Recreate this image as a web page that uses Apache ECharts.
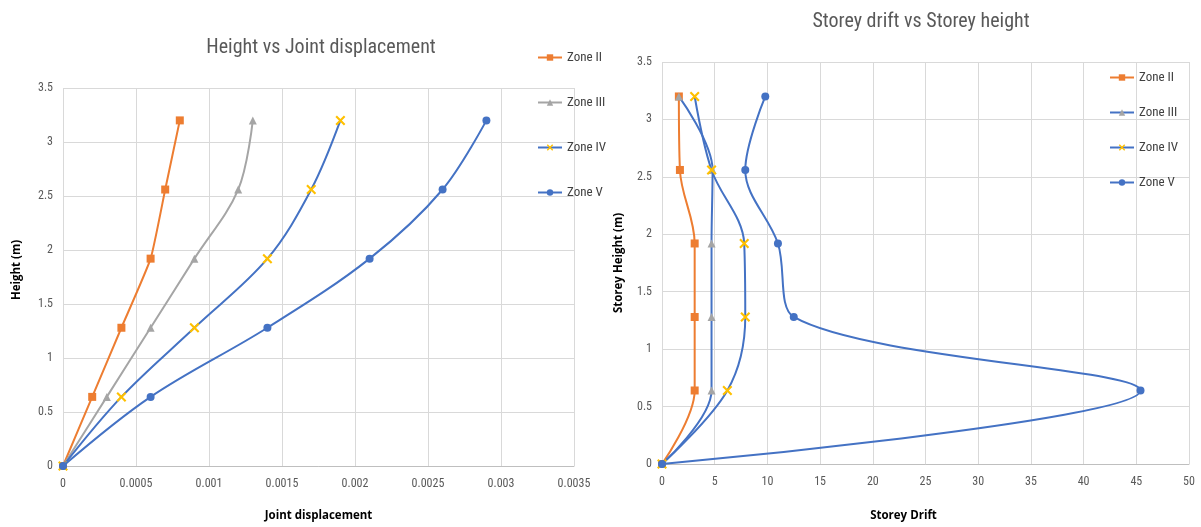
<!DOCTYPE html>
<html><head><meta charset="utf-8">
<script src="https://cdn.jsdelivr.net/npm/echarts@6/dist/echarts.min.js"></script>
<style>
html,body{margin:0;padding:0;background:#fff;}
#wrap{position:relative;width:1201px;height:527px;}
#c1{position:absolute;left:0;top:0;width:640px;height:527px;z-index:2;}
#c2{position:absolute;left:600px;top:0;width:601px;height:527px;z-index:1;}
</style></head>
<body><div id="wrap"><div id="c1"></div><div id="c2"></div></div>
<script>
// ---- data ----
const heights = [0, 0.64, 1.28, 1.92, 2.56, 3.2];
const zoneNames = ['Zone II', 'Zone III', 'Zone IV', 'Zone V'];
const dispII  = [0, 0.0002, 0.0004, 0.0006, 0.0007, 0.0008];
const dispIII = [0, 0.0003, 0.0006, 0.0009, 0.0012, 0.0013];
const dispIV  = [0, 0.0004, 0.0009, 0.0014, 0.0017, 0.0019];
const dispV   = [0, 0.0006, 0.0014, 0.0021, 0.0026, 0.0029];
const driftII  = [0, 3.1, 3.1, 3.1, 1.7, 1.6];
const driftIII = [0, 4.7, 4.7, 4.7, 4.8, 1.6];
const driftIV  = [0, 6.2, 7.9, 7.8, 4.7, 3.1];
const driftV   = [0, 45.4, 12.5, 11.0, 7.9, 9.8];

const FONT = '"Liberation Sans Narrow", "Roboto Condensed", Roboto, sans-serif';
const NAMEFONT = '"Open Sans", "DejaVu Sans", sans-serif';
const ORANGE = '#ED7D31', GRAY = '#A5A5A5', BLUE = '#4472C4', YELLOW = '#FFC000';
const XSYM = 'path://M1.5,0 L5,3.5 L8.5,0 L10,1.5 L6.5,5 L10,8.5 L8.5,10 L5,6.5 L1.5,10 L0,8.5 L3.5,5 L0,1.5 Z';

function pairs(xs){ return xs.map((x,i)=>[x, heights[i]]); }

function mkSeries(dataSets, lineColors, smooths){
  const syms = ['rect','triangle',XSYM,'circle'];
  const symColors = [ORANGE, GRAY, YELLOW, BLUE];
  const sizes = [8, 8, 10, 8];
  return dataSets.map((d,i)=>({
    name: zoneNames[i], type:'line', smooth: smooths[i],
    data: pairs(d), symbol: syms[i], symbolSize: sizes[i],
    lineStyle:{color: lineColors[i], width:2},
    itemStyle:{color: symColors[i]},
    z: 2+i
  }));
}

function axisCommon(){
  return {
    splitLine:{show:true, lineStyle:{color:'#D9D9D9', width:1}},
    axisTick:{show:false}
  };
}
const nameStyle = {color:'#000', fontWeight:'bold', fontSize:11.5, fontFamily:NAMEFONT};
const legendText = {color:'#404040', fontSize:13, fontFamily:FONT};

// Left chart
const c1 = echarts.init(document.getElementById('c1'));
c1.setOption({
  animation:false,
  title:{text:'Height vs Joint displacement', left:316, top:33, textAlign:'center',
    textStyle:{color:'#595959', fontSize:20, fontWeight:'normal', fontFamily:FONT}},
  legend:{orient:'vertical', left:532, top:46, itemWidth:24, itemHeight:8, itemGap:32,
    data: zoneNames, textStyle:legendText},
  grid:{left:63, right:66, top:88, bottom:60},
  xAxis:Object.assign(axisCommon(),{type:'value', min:0, max:0.0035, interval:0.0005,
    name:'Joint displacement', nameLocation:'middle', nameGap:44,
    nameTextStyle:nameStyle,
    axisLine:{show:true, lineStyle:{color:'#BFBFBF'}},
    axisLabel:{color:'#595959', fontSize:12, fontFamily:FONT, margin:12}}),
  yAxis:Object.assign(axisCommon(),{type:'value', min:0, max:3.5, interval:0.5,
    name:'Height (m)', nameLocation:'middle', nameGap:40, nameRotate:90,
    nameTextStyle:Object.assign({padding:[0,0,0,14]}, nameStyle),
    axisLine:{show:false},
    axisLabel:{color:'#595959', fontSize:12, fontFamily:FONT, margin:10}}),
  series: mkSeries([dispII, dispIII, dispIV, dispV], [ORANGE, GRAY, BLUE, BLUE], [0.15, 0.35, 0.35, 0.35])
});

// Right chart
const c2 = echarts.init(document.getElementById('c2'));
c2.setOption({
  animation:false,
  title:{text:'Storey drift vs Storey height', left:316, top:7, textAlign:'center',
    textStyle:{color:'#595959', fontSize:20, fontWeight:'normal', fontFamily:FONT}},
  legend:{orient:'vertical', left:504, top:66, itemWidth:24, itemHeight:8, itemGap:22,
    data: zoneNames, textStyle:legendText},
  grid:{left:62, right:12, top:62, bottom:60},
  xAxis:Object.assign(axisCommon(),{type:'value', min:0, max:50, interval:5,
    name:'Storey Drift', nameLocation:'middle', nameGap:46,
    nameTextStyle:Object.assign({padding:[0,44,0,0]}, nameStyle),
    axisLine:{show:true, lineStyle:{color:'#BFBFBF'}},
    axisLabel:{color:'#595959', fontSize:12, fontFamily:FONT, margin:12}}),
  yAxis:Object.assign(axisCommon(),{type:'value', min:0, max:3.5, interval:0.5,
    name:'Storey Height (m)', nameLocation:'middle', nameGap:37, nameRotate:90,
    nameTextStyle:nameStyle,
    axisLine:{show:false},
    axisLabel:{color:'#595959', fontSize:12, fontFamily:FONT, margin:10}}),
  series: mkSeries([driftII, driftIII, driftIV, driftV], [ORANGE, BLUE, BLUE, BLUE], [0.35, 0.35, 0.35, 0.35])
});
</script></body></html>
